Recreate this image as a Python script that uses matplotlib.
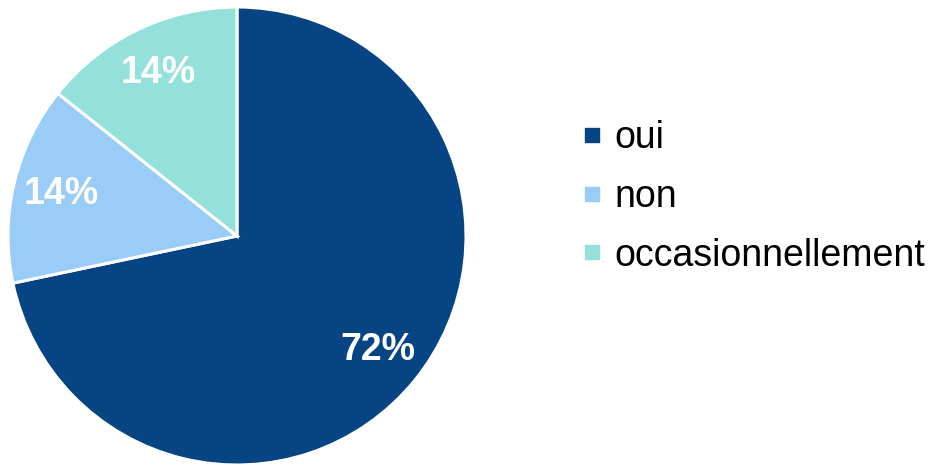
import matplotlib

matplotlib.use("Agg")
import matplotlib.pyplot as plt
from matplotlib.lines import Line2D

labels = ["oui", "non", "occasionnellement"]
values = [71.7, 14.0, 14.3]
colors = ["#074483", "#99CCF7", "#94E0DB"]

plt.rcParams["font.family"] = ["Liberation Sans", "DejaVu Sans"]

fig = plt.figure(figsize=(9.3, 4.65), dpi=100)
# pie centred at ~(237, 236) px, radius ~229 px
ax = fig.add_axes([8 / 930, 0 / 465, 458 / 930, 458 / 465])
wedges, texts, autotexts = ax.pie(
    values,
    colors=colors,
    startangle=90,
    counterclock=False,
    autopct="%.0f%%",
    pctdistance=0.79,
    wedgeprops=dict(edgecolor="white", linewidth=2.2),
    textprops=dict(color="white", fontsize=27, fontweight="bold"),
)
ax.set_xlim(-1.0, 1.0)
ax.set_ylim(-1.0, 1.0)
ax.set_aspect("equal")

handles = [
    Line2D([0], [0], marker="s", linestyle="none", markersize=10.5,
           markerfacecolor=c, markeredgecolor=c)
    for c in colors
]
fig.legend(
    handles,
    labels,
    loc="center left",
    bbox_to_anchor=(583 / 930, 1 - 197 / 465),
    frameon=False,
    fontsize=27,
    handlelength=0.5,
    handletextpad=0.35,
    labelspacing=0.6,
    borderpad=0,
    borderaxespad=0,
)

fig.savefig("out.png", dpi=100)
